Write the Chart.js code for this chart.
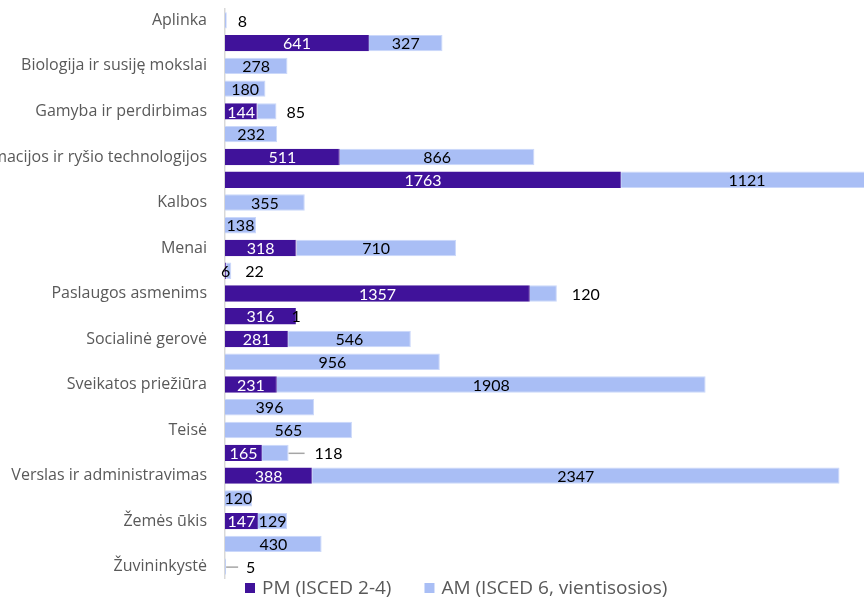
<!DOCTYPE html>
<html>
<head>
<meta charset="utf-8">
<script src="https://cdn.jsdelivr.net/npm/chart.js@4.4.1/dist/chart.umd.min.js"></script>
<style>
html,body{margin:0;padding:0;background:#fff;}
#wrap{width:864px;height:598px;position:relative;}
</style>
</head>
<body>
<div id="wrap"><canvas id="c" width="864" height="598"></canvas></div>
<script>
const categories = [
  "Aplinka", "", "Biologija ir susiję mokslai", "", "Gamyba ir perdirbimas", "",
  "Informacijos ir ryšio technologijos", "", "Kalbos", "", "Menai", "",
  "Paslaugos asmenims", "", "Socialinė gerovė", "", "Sveikatos priežiūra", "",
  "Teisė", "", "Verslas ir administravimas", "", "Žemės ūkis", "", "Žuvininkystė"
];
const seriesNames = ["PM (ISCED 2-4)", "AM (ISCED 6, vientisosios)"];
const pmValues = [null, 641, null, null, 144, null, 511, 1763, null, null, 318, 6, 1357, 316, 281, null, 231, null, null, 165, 388, null, 147, null, null];
const amValues = [8, 327, 278, 180, 85, 232, 866, 1121, 355, 138, 710, 22, 120, 1, 546, 956, 1908, 396, 565, 118, 2347, 120, 129, 430, 5];

const PM_COLOR = "#40129a";
const AM_COLOR = "#a9bef5";
const LABEL_FONT = "Lato, 'Open Sans', sans-serif";
const AXIS_FONT = "'Open Sans', Lato, sans-serif";

// label placement styling for AM labels drawn outside the bar (offset in px, optional leader line)
const outsideLabels = {0:{dx:11}, 4:{dx:10}, 11:{dx:14}, 12:{dx:15}, 19:{dx:26, leader:[0,16]}, 24:{dx:20, leader:[0,12]}};

const labelPlugin = {
  id: 'barLabels',
  afterDatasetsDraw(chart) {
    const ctx = chart.ctx;
    ctx.save();
    ctx.font = "16px " + LABEL_FONT;
    ctx.textBaseline = "middle";
    chart.data.datasets.forEach((ds, di) => {
      const meta = chart.getDatasetMeta(di);
      meta.data.forEach((el, i) => {
        const v = ds.data[i];
        if (v === null || v === undefined) return;
        const x0 = Math.min(el.x, el.base), x1 = Math.max(el.x, el.base);
        const y = el.y;
        const txt = String(v);
        if (di === 1 && outsideLabels[i]) {
          const o = outsideLabels[i];
          if (o.leader) {
            ctx.strokeStyle = "#a6a6a6";
            ctx.lineWidth = 1.5;
            ctx.beginPath();
            ctx.moveTo(x1 + o.leader[0], y + 0.5);
            ctx.lineTo(x1 + o.leader[1], y + 0.5);
            ctx.stroke();
          }
          ctx.fillStyle = "#000";
          ctx.textAlign = "left";
          ctx.fillText(txt, x1 + o.dx, y + 1);
        } else {
          const tiny = (x1 - x0) < ctx.measureText(txt).width;
          ctx.fillStyle = (di === 0 && !tiny) ? "#ffffff" : "#000000";
          ctx.textAlign = "center";
          ctx.fillText(txt, (x0 + x1) / 2, y + 1);
        }
      });
    });
    ctx.restore();
  }
};

const legendPlugin = {
  id: 'customLegend',
  afterDraw(chart) {
    const ctx = chart.ctx;
    ctx.save();
    ctx.font = "19px " + AXIS_FONT;
    ctx.textBaseline = "middle";
    ctx.textAlign = "left";
    const items = chart.data.datasets.map(d => ({text: d.label, color: d.backgroundColor}));
    const box = 10, gapText = 7, gapItem = 33;
    let x = 245;
    const y = 588;
    items.forEach(it => {
      ctx.fillStyle = it.color;
      ctx.fillRect(x, y - box / 2, box, box);
      x += box + gapText;
      ctx.fillStyle = "#595959";
      ctx.fillText(it.text, x, y + 1);
      x += ctx.measureText(it.text).width + gapItem;
    });
    ctx.restore();
  }
};

new Chart(document.getElementById('c'), {
  type: 'bar',
  data: {
    labels: categories,
    datasets: [
      {label: seriesNames[0], data: pmValues, backgroundColor: PM_COLOR, borderColor: "#6a48b0", borderWidth: {right: 1, top: 0, bottom: 0, left: 0}},
      {label: seriesNames[1], data: amValues, backgroundColor: AM_COLOR, borderColor: "#cbd8fa", borderWidth: 1}
    ]
  },
  options: {
    indexAxis: 'y',
    responsive: false,
    animation: false,
    devicePixelRatio: 1,
    layout: {padding: {left: 0, top: 9, right: 0, bottom: 20}},
    datasets: {bar: {categoryPercentage: 1.0, barPercentage: 0.72}},
    plugins: {legend: {display: false}, tooltip: {enabled: false}},
    scales: {
      x: {stacked: true, display: false, min: 0, max: 2844},
      y: {
        stacked: true,
        grid: {display: false, drawTicks: false},
        border: {display: true, color: "#d9d9d9", width: 1.5},
        ticks: {autoSkip: false, padding: 18, color: "#595959", font: {family: AXIS_FONT, size: 16}},
        afterFit(scale) { scale.width = 225; scale.paddingTop = 0; scale.paddingBottom = 0; }
      }
    }
  },
  plugins: [labelPlugin, legendPlugin]
});
</script>
</body>
</html>
